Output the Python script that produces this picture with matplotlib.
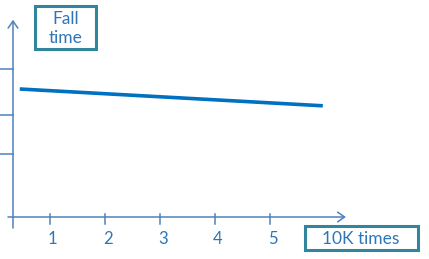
import matplotlib.pyplot as plt
from matplotlib.patches import Rectangle

# Data
x_ticks = [1, 2, 3, 4, 5]
y_ticks = [1.58, 2.55, 3.7]
load = [0.45, 5.96]
fall_time = [3.2, 2.78]

axis_color = '#4F81BD'
text_color = '#2E75B6'
box_color = '#31859C'
line_color = '#0070C0'

W, H = 429, 259
fig = plt.figure(figsize=(W / 100, H / 100), dpi=100)
ax = fig.add_axes([0, 0, 1, 1])
ax.set_xlim(5 / 55, 434 / 55)
ax.set_ylim(-42 / 40, 217 / 40)
ax.axis('off')

plt.rcParams['font.family'] = ['Lato', 'DejaVu Sans']

# Axes with open arrow heads
arrow = dict(arrowstyle='->,head_length=0.5,head_width=0.35', color=axis_color, lw=1.1,
             shrinkA=0, shrinkB=0)
ax.annotate('', xy=(6.38, 0), xytext=(0.236, 0), arrowprops=arrow)
ax.annotate('', xy=(0.327, 4.93), xytext=(0.327, -0.275), arrowprops=arrow)

# Ticks
for t in x_ticks:
    ax.plot([t, t], [0.08, -0.17], color=axis_color, lw=1.1)
    ax.text(t + 0.05, -0.55, str(t), color=text_color, fontsize=12,
            ha='center', va='center')
for t in y_ticks:
    ax.plot([0.0909, 0.327], [t, t], color=axis_color, lw=1.1)

# Line
ax.plot(load, fall_time, color=line_color, lw=2.6, solid_capstyle='butt')

# Label boxes
def box(x0, y0, x1, y1):
    fig.add_artist(Rectangle((x0 / W, 1 - y1 / H), (x1 - x0) / W, (y1 - y0) / H,
                             transform=fig.transFigure, fill=False,
                             edgecolor=box_color, lw=2.2))

box(35, 6, 96, 49)
fig.text(65.5 / W, 1 - 28.5 / H, 'Fall\ntime', color=text_color, fontsize=12.5,
         ha='center', va='center', linespacing=1.3)
box(305, 226, 418, 250)
fig.text(361 / W, 1 - 239 / H, '10K times', color=text_color, fontsize=12.5,
         ha='center', va='center')

plt.savefig('out.png', dpi=100)
